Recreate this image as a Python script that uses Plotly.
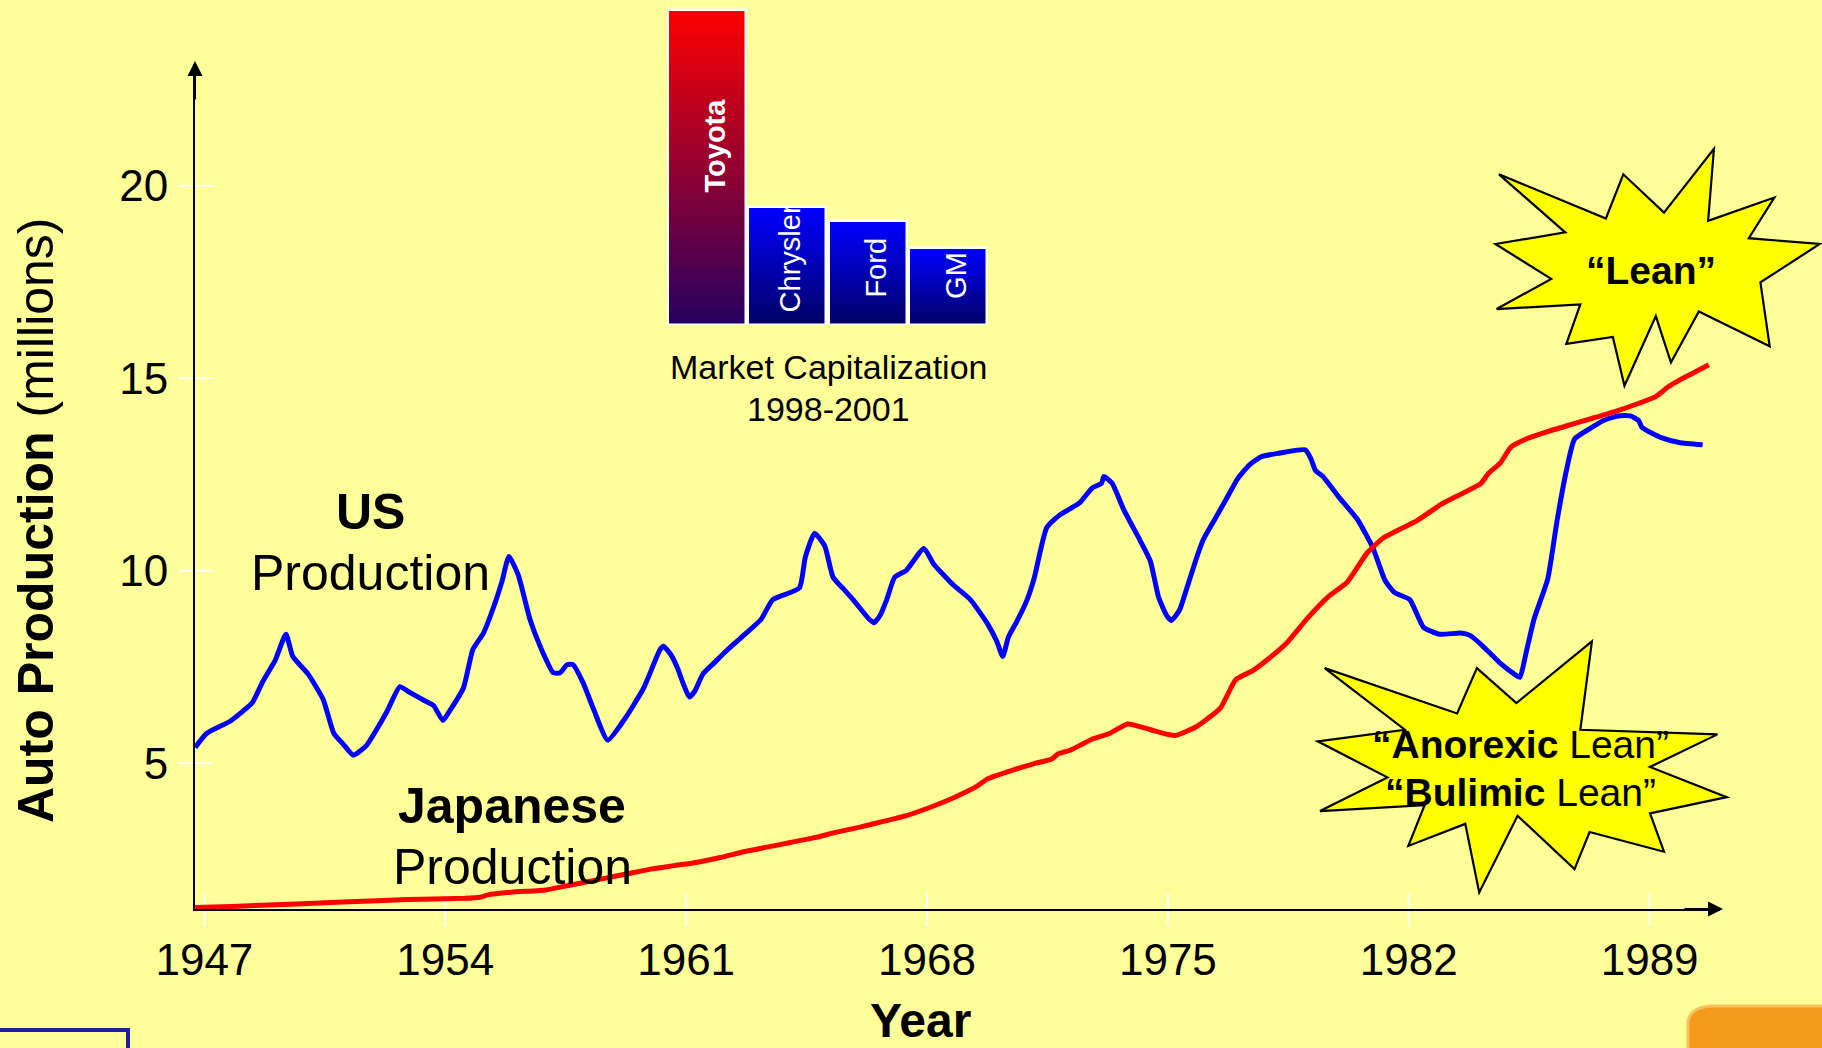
import plotly.graph_objects as go

W, H = 1822, 1048
FONT = "Liberation Sans, Arial, sans-serif"

# ---------------- data ----------------
us_years = [1946.73, 1947.07, 1947.75, 1948.05, 1948.39, 1948.69, 1949.06, 1949.37, 1949.57, 1950.01,
            1950.45, 1950.76, 1951.02, 1951.33, 1951.70, 1952.00, 1952.31, 1952.68, 1952.91, 1953.39,
            1953.66, 1953.93, 1954.10, 1954.53, 1954.80, 1955.11, 1955.41, 1955.65, 1955.85, 1956.12,
            1956.46, 1956.77, 1957.14, 1957.34, 1957.54, 1957.71, 1958.01, 1958.32, 1958.72, 1959.26,
            1959.77, 1960.24, 1960.34, 1960.55, 1960.75, 1960.91, 1961.09, 1961.25, 1961.49, 1961.83,
            1962.17, 1962.67, 1963.18, 1963.52, 1964.29, 1964.46, 1964.73, 1965.03, 1965.27, 1965.61,
            1965.85, 1966.32, 1966.46, 1966.63, 1966.83, 1967.06, 1967.40, 1967.91, 1968.18, 1968.75,
            1969.26, 1969.76, 1970.03, 1970.20, 1970.37, 1970.61, 1970.91, 1971.11, 1971.48, 1971.86,
            1972.43, 1972.80, 1973.07, 1973.14, 1973.38, 1973.72, 1974.19, 1974.49, 1974.73, 1974.97,
            1975.10, 1975.34, 1975.51, 1975.78, 1976.02, 1976.36, 1976.69, 1977.03, 1977.37, 1977.71,
            1978.21, 1978.99, 1979.16, 1979.29, 1979.50, 1979.97, 1980.51, 1980.95, 1981.32, 1981.59,
            1982.03, 1982.43, 1982.90, 1983.51, 1983.78, 1984.12, 1984.63, 1985.06, 1985.23, 1985.40,
            1985.64, 1986.04, 1986.31, 1986.58, 1986.82, 1987.32, 1987.66, 1988.07, 1988.44, 1988.68,
            1988.78, 1989.36, 1989.86, 1990.54]
us_values = [5.41, 5.78, 6.09, 6.30, 6.57, 7.11, 7.68, 8.35, 7.77, 7.32,
             6.66, 5.78, 5.51, 5.21, 5.45, 5.87, 6.35, 6.99, 6.87, 6.63,
             6.50, 6.11, 6.32, 6.96, 7.95, 8.38, 9.07, 9.73, 10.37, 9.89,
             8.74, 8.01, 7.35, 7.35, 7.56, 7.56, 7.08, 6.38, 5.60, 6.21,
             6.96, 7.95, 8.04, 7.83, 7.47, 7.08, 6.72, 6.87, 7.32, 7.62,
             7.92, 8.32, 8.74, 9.25, 9.55, 10.34, 10.97, 10.64, 9.83, 9.49,
             9.25, 8.74, 8.65, 8.83, 9.25, 9.83, 10.01, 10.58, 10.19, 9.64,
             9.25, 8.62, 8.16, 7.77, 8.29, 8.68, 9.25, 9.79, 11.12, 11.45,
             11.76, 12.15, 12.27, 12.45, 12.27, 11.58, 10.79, 10.25, 9.31, 8.83,
             8.71, 8.98, 9.43, 10.19, 10.79, 11.33, 11.85, 12.39, 12.75, 12.96,
             13.05, 13.14, 12.90, 12.60, 12.45, 11.91, 11.33, 10.61, 9.73, 9.43,
             9.25, 8.53, 8.35, 8.38, 8.32, 8.07, 7.62, 7.32, 7.23, 7.83,
             8.74, 9.79, 11.30, 12.60, 13.42, 13.72, 13.90, 14.02, 14.02, 13.90,
             13.72, 13.45, 13.33, 13.27]

jp_years = [1946.73, 1947.81, 1949.50, 1951.19, 1952.88, 1954.57, 1955.01, 1955.24, 1955.92, 1956.93,
            1957.27, 1957.95, 1958.63, 1959.30, 1959.97, 1960.65, 1961.33, 1962.00, 1962.68, 1963.35,
            1964.03, 1964.70, 1965.38, 1966.05, 1966.73, 1967.40, 1968.08, 1968.59, 1969.10, 1969.43,
            1969.77, 1970.45, 1971.12, 1971.63, 1971.80, 1972.14, 1972.48, 1972.81, 1973.32, 1973.83,
            1974.50, 1975.21, 1975.85, 1976.53, 1976.97, 1977.48, 1977.88, 1978.46, 1979.06, 1979.64,
            1980.21, 1980.79, 1981.26, 1982.24, 1982.95, 1984.10, 1984.30, 1984.67, 1984.97, 1985.41,
            1985.99, 1986.66, 1987.34, 1988.01, 1988.69, 1989.19, 1989.53, 1989.87, 1990.21, 1990.72]
jp_values = [1.25, 1.28, 1.34, 1.40, 1.46, 1.49, 1.52, 1.58, 1.65, 1.71,
             1.77, 1.89, 2.01, 2.13, 2.25, 2.34, 2.43, 2.55, 2.70, 2.82,
             2.94, 3.06, 3.21, 3.34, 3.49, 3.64, 3.85, 4.03, 4.24, 4.39,
             4.60, 4.81, 4.99, 5.11, 5.24, 5.33, 5.48, 5.63, 5.78, 6.02,
             5.87, 5.72, 5.96, 6.44, 7.17, 7.41, 7.68, 8.13, 8.77, 9.31,
             9.70, 10.46, 10.85, 11.30, 11.73, 12.27, 12.51, 12.81, 13.21, 13.42,
             13.60, 13.78, 13.96, 14.14, 14.35, 14.53, 14.77, 14.95, 15.11, 15.35]

x_tick_years = [1947, 1954, 1961, 1968, 1975, 1982, 1989]
y_tick_values = [5, 10, 15, 20]

companies = ["Toyota", "Chrysler", "Ford", "GM"]
market_cap = [100, 37.3, 32.9, 24.4]

# ---------------- helpers ----------------
S = W / 1568.0


def px(x):
    return x / W


def py(y):
    return 1 - y / H


def star_path(pts):
    segs = []
    for i, (x, y) in enumerate(pts):
        segs.append(("M" if i == 0 else "L") + f"{px(x * S):.5f},{py(y * S):.5f}")
    return " ".join(segs) + " Z"


def mix(c0, c1, f):
    return "rgb(%d,%d,%d)" % tuple(round(a + (b - a) * f) for a, b in zip(c0, c1))


fig = go.Figure()

# ---------------- main lines ----------------
fig.add_trace(go.Scatter(x=us_years, y=us_values, mode="lines",
                         line=dict(color="#0000FF", width=5, shape="spline", smoothing=0.5),
                         showlegend=False, hoverinfo="skip"))
fig.add_trace(go.Scatter(x=jp_years, y=jp_values, mode="lines",
                         line=dict(color="#FF0000", width=5, shape="spline", smoothing=0.5),
                         showlegend=False, hoverinfo="skip"))

# ---------------- inset bar chart (gradient via stacked slices) ----------------
top_cols = [(255, 0, 0), (0, 0, 255), (0, 0, 255), (0, 0, 255)]
bot_cols = [(38, 0, 96), (0, 0, 100), (0, 0, 100), (0, 0, 100)]
N = 40
for k in range(N):
    f = (k + 0.5) / N
    h = [v / N * (1.0 if k == N - 1 else 1.1) for v in market_cap]
    fig.add_trace(go.Bar(
        x=companies, y=h, base=[v * k / N for v in market_cap],
        marker=dict(color=[mix(bot_cols[i], top_cols[i], f) for i in range(4)], line=dict(width=0)),
        width=0.97, xaxis="x2", yaxis="y2", showlegend=False, hoverinfo="skip"))
fig.add_trace(go.Bar(
    x=companies, y=market_cap,
    marker=dict(color="rgba(0,0,0,0)", line=dict(color="white", width=2.5)),
    width=0.97, xaxis="x2", yaxis="y2", showlegend=False, hoverinfo="skip"))

# ---------------- shapes ----------------
shapes = []
for v in y_tick_values:
    shapes.append(dict(type="line", xref="paper", yref="y", x0=px(178), x1=px(213), y0=v, y1=v,
                       line=dict(color="white", width=2), layer="below"))
for yr in x_tick_years:
    shapes.append(dict(type="line", xref="x", yref="paper", x0=yr, x1=yr, y0=py(926), y1=py(893),
                       line=dict(color="white", width=2), layer="below"))

lean_star = [(1290, 150), (1382, 188), (1397, 150), (1432, 183), (1475, 128), (1470, 190),
             (1527, 170), (1505, 205), (1566, 210), (1515, 243), (1523, 298), (1462, 268),
             (1438, 312), (1425, 272), (1398, 332), (1388, 290), (1348, 296), (1360, 262),
             (1288, 266), (1335, 240), (1287, 210), (1347, 200)]
anorexic_star = [(1140, 575), (1254, 614), (1271, 575), (1305, 605), (1370, 552), (1360, 628),
                 (1478, 632), (1420, 660), (1486, 686), (1420, 700), (1432, 733), (1368, 716),
                 (1355, 748), (1306, 702), (1273, 768), (1261, 709), (1212, 728), (1226, 693),
                 (1136, 698), (1194, 669), (1134, 638), (1209, 628)]
for st in (lean_star, anorexic_star):
    shapes.append(dict(type="path", xref="paper", yref="paper", path=star_path(st),
                       fillcolor="#FFFF00", line=dict(color="black", width=2.2), layer="above"))

# slide artefacts at the bottom corners
shapes.append(dict(type="rect", xref="paper", yref="paper", x0=px(-10), x1=px(128), y0=py(1060), y1=py(1030),
                   line=dict(color="#1f1fa0", width=4), fillcolor="rgba(0,0,0,0)"))
shapes.append(dict(type="path", xref="paper", yref="paper",
                   path=f"M{px(1688)},{py(1060)} L{px(1688)},{py(1022)} Q{px(1690)},{py(1007)} {px(1712)},{py(1006)} "
                        f"L{px(1830)},{py(1006)} L{px(1830)},{py(1060)} Z",
                   fillcolor="#F39A1C", line=dict(color="#F7C25A", width=3)))

# ---------------- annotations ----------------
ann = []


def text(x, y, s, size, bold=False, color="black", angle=0, xref="paper", yref="paper", xshift=0):
    ann.append(dict(x=x, y=y, xref=xref, yref=yref, text=(f"<b>{s}</b>" if bold else s),
                    showarrow=False, textangle=angle, xanchor="center", yanchor="middle",
                    xshift=xshift, font=dict(family=FONT, size=size, color=color)))


text(px(370), py(512), "US", 50, bold=True)
text(px(370), py(573), "Production", 50)
text(px(512), py(806), "Japanese", 50, bold=True)
text(px(512), py(867), "Production", 50)
text(px(828), py(367), "Market Capitalization", 34)
text(px(828), py(409), "1998-2001", 34)
text(px(1651), py(270), "“Lean”", 39, bold=True)
text(px(1520), py(744), "<b>“Anorexic</b> Lean”", 39)
text(px(1520), py(792), "<b>“Bulimic</b> Lean”", 39)
text(px(36), py(520), "<b>Auto Production</b> (millions)", 50, angle=-90)
text(px(920), py(1020), "Year", 48, bold=True)

# bar labels
bar_label_frac = [0.57, 0.57, 0.55, 0.65]
bar_label_shift = [8, 3, 8, 8]
for i, c in enumerate(companies):
    text(c, market_cap[i] * bar_label_frac[i], c, 29, bold=(i == 0), color="white", angle=-90,
         xref="x2", yref="y2", xshift=bar_label_shift[i])

# axis arrows
ann.append(dict(x=px(195), y=py(61), xref="paper", yref="paper", ax=0, ay=40, showarrow=True,
                arrowhead=2, arrowsize=1.5, arrowwidth=2, arrowcolor="black", text=""))
ann.append(dict(x=px(1723), y=py(909), xref="paper", yref="paper", ax=-40, ay=0, showarrow=True,
                arrowhead=2, arrowsize=1.5, arrowwidth=2, arrowcolor="black", text=""))

# ---------------- layout ----------------
fig.update_layout(
    width=W, height=H, margin=dict(l=0, r=0, t=0, b=0),
    paper_bgcolor="#FFFF99", plot_bgcolor="#FFFF99",
    font=dict(family=FONT, color="black"),
    barmode="overlay", bargap=0,
    showlegend=False,
    xaxis=dict(domain=[px(195), px(1720)], range=[1946.727, 1991.045],
               tickmode="array", tickvals=x_tick_years, ticks="",
               tickfont=dict(size=44, family=FONT, color="black"), ticklabelstandoff=11,
               showgrid=False, zeroline=False, showline=True, linecolor="black", linewidth=2,
               automargin=False, fixedrange=True),
    yaxis=dict(domain=[py(909), py(64)], range=[1.214, 23.16],
               tickmode="array", tickvals=y_tick_values, ticks="",
               tickfont=dict(size=44, family=FONT, color="black"), ticklabelstandoff=16,
               showgrid=False, zeroline=False, showline=True, linecolor="black", linewidth=2,
               automargin=False, fixedrange=True),
    xaxis2=dict(domain=[px(667), px(988)], range=[-0.5, 3.5], visible=False, anchor="y2",
                type="category", fixedrange=True),
    yaxis2=dict(domain=[py(325), py(8)], range=[0, 100.6], visible=False, anchor="x2",
                fixedrange=True),
    shapes=shapes,
    annotations=ann,
)

fig.write_html("out.html", config={"displayModeBar": False},
               post_script="document.body.style.margin='0px';document.body.style.overflow='hidden';")
